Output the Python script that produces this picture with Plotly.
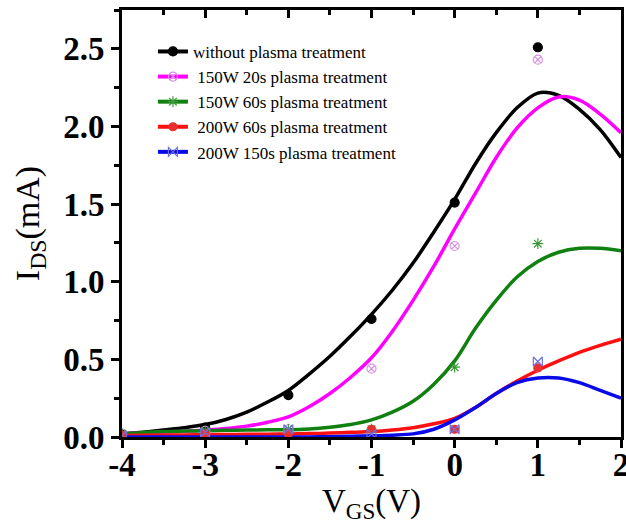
import plotly.graph_objects as go

# ---- data ----
names = ["without plasma treatment", " 150W 20s plasma treatment", " 150W 60s plasma treatment",
         " 200W 60s plasma treatment", " 200W 150s plasma treatment"]

x_meas = [-4, -3, -2, -1, 0, 1]
y_meas_black = [0.02, 0.06, 0.27, 0.76, 1.51, 2.51]
y_meas_magenta = [0.02, 0.04, 0.05, 0.44, 1.23, 2.43]
y_meas_green = [0.02, 0.04, 0.05, 0.05, 0.45, 1.245]
y_meas_red = [0.01, 0.02, 0.02, 0.05, 0.05, 0.445]
y_meas_blue = [0.01, 0.03, 0.05, 0.02, 0.05, 0.486]

x_fit = [-4, -3.75, -3.5, -3.25, -3, -2.75, -2.5, -2.25, -2, -1.75, -1.5, -1.25, -1,
         -0.75, -0.5, -0.25, 0, 0.25, 0.5, 0.75, 1, 1.25, 1.5, 1.75, 2]
y_fit_black = [0.02, 0.03, 0.045, 0.06, 0.08, 0.113, 0.16, 0.225, 0.30, 0.405, 0.52, 0.65, 0.79,
               0.945, 1.12, 1.32, 1.53, 1.76, 1.96, 2.12, 2.215, 2.20, 2.11, 1.98, 1.80]
y_fit_magenta = [0.02, 0.025, 0.03, 0.037, 0.045, 0.055, 0.07, 0.095, 0.13, 0.195, 0.28, 0.385, 0.51,
                 0.68, 0.88, 1.10, 1.34, 1.57, 1.80, 1.99, 2.12, 2.19, 2.17, 2.08, 1.96]
y_fit_green = [0.02, 0.028, 0.035, 0.038, 0.04, 0.043, 0.045, 0.046, 0.047, 0.052, 0.063, 0.08, 0.11,
               0.16, 0.23, 0.34, 0.49, 0.70, 0.88, 1.03, 1.13, 1.19, 1.215, 1.215, 1.20]
y_fit_red = [0.01, 0.011, 0.012, 0.013, 0.015, 0.016, 0.017, 0.018, 0.02, 0.022, 0.025, 0.03, 0.035,
             0.045, 0.06, 0.085, 0.12, 0.19, 0.28, 0.36, 0.43, 0.49, 0.545, 0.59, 0.63]
y_fit_blue = [0.0, 0.0, 0.0, 0.0, 0.0, 0.0, 0.0, 0.0, 0.0, 0.0, 0.002, 0.005, 0.008,
              0.012, 0.02, 0.05, 0.11, 0.19, 0.28, 0.35, 0.38, 0.38, 0.35, 0.30, 0.25]

x_ticks = [-4, -3, -2, -1, 0, 1, 2]
x_tick_text = ["-4", "-3", "-2", "-1", "0", "1", "2"]
y_ticks = [0.0, 0.5, 1.0, 1.5, 2.0, 2.5]
y_tick_text = ["0.0", "0.5", "1.0", "1.5", "2.0", "2.5"]

line_colors = ["#000000", "#FF00FF", "#108010", "#FF1010", "#0A0AE6"]
marker_colors = ["#000000", "#D890E0", "#3A9A3A", "#E83030", "#7070E0"]
symbols = ["circle", "circle-x-open", "asterisk-open", "circle", "bowtie-open"]
msizes = [9, 9, 9, 8, 9]

fits = [y_fit_black, y_fit_magenta, y_fit_green, y_fit_red, y_fit_blue]
meas = [y_meas_black, y_meas_magenta, y_meas_green, y_meas_red, y_meas_blue]

fig = go.Figure()
for i in range(5):
    fig.add_trace(go.Scatter(x=x_fit, y=fits[i], mode="lines",
                             line=dict(color=line_colors[i], width=3.5, shape="spline", smoothing=0.9),
                             showlegend=False, hoverinfo="skip"))
for i in range(5):
    fig.add_trace(go.Scatter(x=x_meas, y=meas[i], mode="markers",
                             marker=dict(symbol=symbols[i], color=marker_colors[i], size=msizes[i],
                                         line=dict(color=marker_colors[i], width=1.2)),
                             showlegend=False))
for i in range(5):
    fig.add_trace(go.Scatter(x=[None], y=[None], mode="lines+markers", name=names[i],
                             line=dict(color=line_colors[i], width=4),
                             marker=dict(symbol=symbols[i], color=marker_colors[i], size=msizes[i],
                                         line=dict(color=marker_colors[i], width=1.2))))

# invisible trace on top axis so it renders
fig.add_trace(go.Scatter(x=[-4, 2], y=[None, None], xaxis="x2", showlegend=False, hoverinfo="skip"))

font_serif = "Liberation Serif, Times New Roman, serif"

fig.update_layout(
    width=626, height=530,
    margin=dict(l=122, r=5, t=10, b=93),
    paper_bgcolor="white", plot_bgcolor="white",
    font=dict(family=font_serif, color="black"),
    showlegend=True,
    legend=dict(x=0.062, y=0.944, xanchor="left", yanchor="top", bgcolor="rgba(0,0,0,0)",
                font=dict(family=font_serif, size=17, color="black"), tracegroupgap=0),
    xaxis=dict(range=[-4, 2], tickvals=x_ticks, ticktext=x_tick_text, showgrid=False, zeroline=False,
               automargin=False, ticklabeloverflow="allow",
               showline=True, linewidth=3, linecolor="black", mirror=True,
               ticks="outside", ticklen=8, tickwidth=2.5, tickcolor="black",
               minor=dict(dtick=0.5, ticks="outside", ticklen=5, tickwidth=2.5, tickcolor="black"),
               tickfont=dict(family=font_serif, size=33, color="black", weight="bold"),
               ticklabelstandoff=-12,
               title=dict(text="V<sub>GS</sub>(V)", font=dict(family=font_serif, size=33, color="black"), standoff=0)),
    xaxis2=dict(range=[-4, 2], overlaying="x", side="top", tickvals=x_ticks, showticklabels=False,
                showgrid=False, zeroline=False, showline=False, automargin=False,
                ticks="inside", ticklen=8, tickwidth=2.5, tickcolor="black",
                minor=dict(dtick=0.5, ticks="inside", ticklen=5, tickwidth=2.5, tickcolor="black")),
    yaxis=dict(range=[0, 2.75], tickvals=y_ticks, ticktext=y_tick_text, showgrid=False, zeroline=False,
               automargin=False, ticklabeloverflow="allow",
               showline=True, linewidth=3, linecolor="black", mirror=True,
               ticks="outside", ticklen=8, tickwidth=2.5, tickcolor="black",
               minor=dict(dtick=0.25, ticks="outside", ticklen=5, tickwidth=2.5, tickcolor="black"),
               tickfont=dict(family=font_serif, size=33, color="black", weight="bold"),
               title=dict(text="I<sub>DS</sub>(mA)", font=dict(family=font_serif, size=34, color="black"), standoff=14)),
)

fig.write_html("out.html", config={"displayModeBar": False},
               post_script="document.body.style.margin='0';document.body.style.overflow='hidden';")
